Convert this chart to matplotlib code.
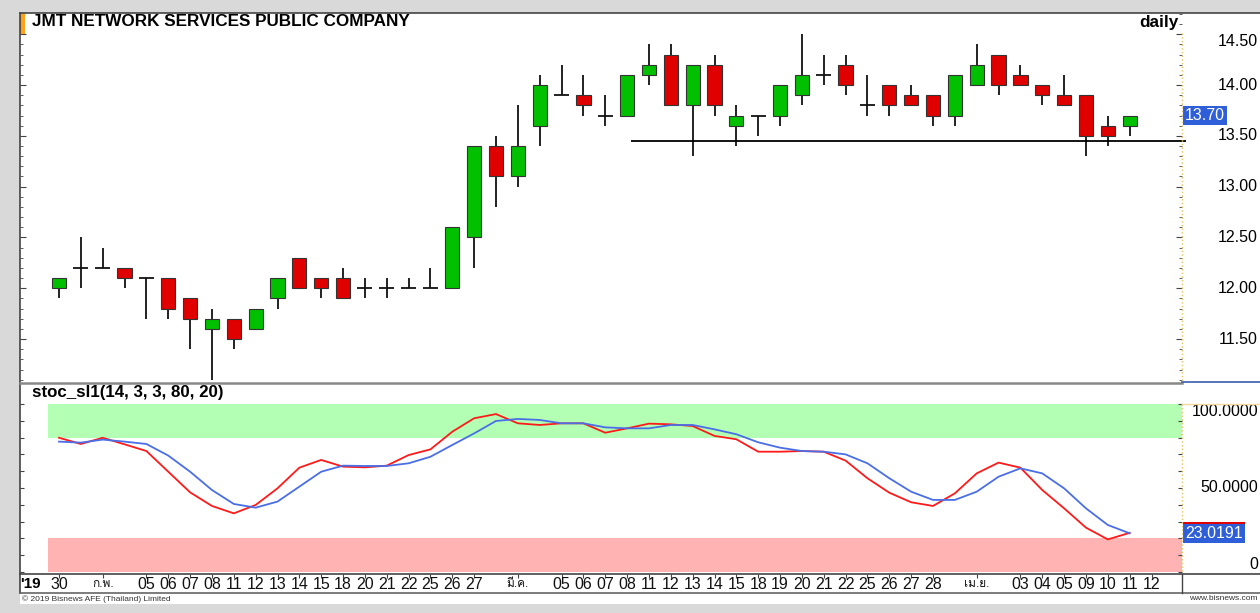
import numpy as np
import matplotlib
matplotlib.use("Agg")
import matplotlib.pyplot as plt
import matplotlib.transforms as mtransforms
from matplotlib import font_manager
from matplotlib.patches import Rectangle
from matplotlib.lines import Line2D

# daily candles JMT, 30 Jan - 11 Apr 2019
opens = [12.0, 12.2, 12.2, 12.2, 12.1, 12.1, 11.9, 11.6, 11.7, 11.6,
         11.9, 12.3, 12.1, 12.1, 12.0, 12.0, 12.0, 12.0, 12.0, 12.5,
         13.4, 13.1, 13.6, 13.9, 13.9, 13.7, 13.7, 14.1, 14.3, 13.8,
         14.2, 13.6, 13.7, 13.7, 13.9, 14.1, 14.2, 13.8, 14.0, 13.9,
         13.9, 13.7, 14.0, 14.3, 14.1, 14.0, 13.9, 13.9, 13.6, 13.6]
highs = [12.1, 12.5, 12.4, 12.2, 12.1, 12.1, 11.9, 11.8, 11.7, 11.8,
         12.1, 12.3, 12.1, 12.2, 12.1, 12.1, 12.1, 12.2, 12.6, 13.4,
         13.5, 13.8, 14.1, 14.2, 14.1, 13.9, 14.1, 14.4, 14.4, 14.2,
         14.3, 13.8, 13.7, 14.0, 14.5, 14.3, 14.3, 14.1, 14.0, 14.0,
         13.9, 14.1, 14.4, 14.3, 14.2, 14.0, 14.1, 13.9, 13.7, 13.7]
lows = [11.9, 12.0, 12.2, 12.0, 11.7, 11.7, 11.4, 11.1, 11.4, 11.6,
        11.8, 12.0, 11.9, 11.9, 11.9, 11.9, 12.0, 12.0, 12.0, 12.2,
        12.8, 13.0, 13.4, 13.9, 13.7, 13.6, 13.7, 14.0, 13.8, 13.3,
        13.7, 13.4, 13.5, 13.6, 13.8, 14.0, 13.9, 13.7, 13.7, 13.8,
        13.6, 13.6, 14.0, 13.9, 14.0, 13.8, 13.8, 13.3, 13.4, 13.5]
closes = [12.1, 12.2, 12.2, 12.1, 12.1, 11.8, 11.7, 11.7, 11.5, 11.8,
          12.1, 12.0, 12.0, 11.9, 12.0, 12.0, 12.0, 12.0, 12.6, 13.4,
          13.1, 13.4, 14.0, 13.9, 13.8, 13.7, 14.1, 14.2, 13.8, 14.2,
          13.8, 13.7, 13.7, 14.0, 14.1, 14.1, 14.0, 13.8, 13.8, 13.8,
          13.7, 14.1, 14.2, 14.0, 14.0, 13.9, 13.8, 13.5, 13.5, 13.7]

# stochastic slow (14, 3, 3): red = %K, blue = %D
stoch_k = [79.9, 76.2, 79.9, 76.0, 72.0, 59.7, 47.4, 39.3, 34.9, 39.9,
           49.8, 62.1, 66.7, 62.7, 62.3, 63.3, 69.6, 73.0, 83.5, 91.5,
           94.0, 88.5, 87.5, 88.5, 88.5, 82.9, 85.5, 88.3, 87.9, 86.9,
           81.0, 79.0, 71.6, 71.6, 72.0, 71.6, 66.3, 55.8, 47.2, 41.5,
           39.3, 46.8, 58.7, 65.1, 62.1, 48.8, 37.9, 26.4, 19.4, 23.3]
stoch_d = [77.6, 77.0, 78.8, 77.6, 76.2, 69.3, 59.7, 48.8, 40.5, 38.3,
           41.9, 50.8, 59.7, 63.3, 63.1, 63.1, 64.7, 68.6, 75.6, 82.5,
           89.9, 91.1, 90.5, 88.5, 88.5, 86.1, 85.5, 85.5, 87.5, 87.5,
           84.9, 82.0, 77.2, 74.0, 72.0, 71.6, 70.0, 64.7, 55.8, 47.8,
           42.9, 42.9, 47.8, 56.7, 61.7, 58.7, 49.8, 37.9, 28.0, 23.0191]

# one label per trading day (12 Apr has a slot but no candle yet)
date_labels = ['30', '', 'ก.พ.', '', '05', '06', '07', '08', '11', '12',
               '13', '14', '15', '18', '20', '21', '22', '25', '26', '27',
               '', 'มี.ค.', '', '05', '06', '07', '08', '11', '12', '13',
               '14', '15', '18', '19', '20', '21', '22', '25', '26', '27',
               '28', '', 'เม.ย.', '', '03', '04', '05', '09', '10', '11', '12']

price_ticks = [14.5, 14.0, 13.5, 13.0, 12.5, 12.0, 11.5]
price_tick_labels = ['14.50', '14.00', '13.50', '13.00', '12.50', '12.00', '11.50']
stoch_ticks = [100, 50, 0]
stoch_tick_labels = ['100.0000', '50.0000', '0']
support_level = 13.45
support_start = 26.2
last_price = 13.70
overbought = 80
oversold = 20

W, H = 1260, 613
GRAY = '#d9d9d9'
GREEN = '#00c000'
RED = '#e00000'
LABEL_BLUE = '#2f5fd8'
FONT = 'Liberation Sans'


def find_thai_font():
    # any installed font that covers the Thai block
    try:
        from fontTools.ttLib import TTFont
    except ImportError:
        return 'DejaVu Sans'
    for entry in font_manager.fontManager.ttflist:
        try:
            cmap = TTFont(entry.fname, fontNumber=0, lazy=True).getBestCmap()
        except Exception:
            continue
        if cmap and 0x0E01 in cmap:
            return entry.name
    return 'DejaVu Sans'


def fx(px):
    return px / W


def fy(py):
    return 1 - py / H


def fig_line(fig, x0, y0, x1, y1, **kw):
    fig.add_artist(Line2D([fx(x0), fx(x1)], [fy(y0), fy(y1)],
                          transform=fig.transFigure, **kw))


THAI = find_thai_font()
plt.rcParams['font.family'] = [FONT, THAI, 'DejaVu Sans']

x = np.arange(len(closes))
o = np.array(opens)
c = np.array(closes)
# pixel geometry of the original: candle 0 at x=59, 21.85 px per day
step = 21.85
xlim = ((20 - 59) / step, (1182 - 59) / step)

fig = plt.figure(figsize=(W / 100, H / 100), dpi=100, facecolor=GRAY)
fig.add_artist(Rectangle((fx(20), fy(604)), 1 - fx(20), fy(13) - fy(604),
                         transform=fig.transFigure, facecolor='white',
                         edgecolor='none', zorder=0))

ax_price = fig.add_axes([fx(20), fy(382), fx(1182) - fx(20), fy(13) - fy(382)])
ax_stoch = fig.add_axes([fx(20), fy(573), fx(1182) - fx(20), fy(384) - fy(573)])
ax_date = fig.add_axes([fx(20), fy(593), fx(1182) - fx(20), fy(574) - fy(593)])

for ax in (ax_price, ax_stoch, ax_date):
    ax.set_xlim(*xlim)
    ax.set_facecolor('white')
    ax.set_xticks([])
    ax.set_yticks([])
    for side in ('top', 'right', 'bottom', 'left'):
        ax.spines[side].set_visible(False)

# ---- candles ----
ax_price.set_ylim(11.077, 14.709)
ax_price.vlines(x, lows, highs, color='#111111', lw=1.3, zorder=2)
doji = o == c
body = ~doji
colors = np.where(c > o, GREEN, RED)
ax_price.bar(x[body], np.abs(c - o)[body], bottom=np.minimum(o, c)[body],
             width=0.65, color=colors[body], edgecolor='#333333', lw=0.8, zorder=3)
ax_price.hlines(o[doji], x[doji] - 0.34, x[doji] + 0.34, color='#111111', lw=1.3, zorder=3)
ax_price.hlines(support_level, support_start, xlim[1] + 0.2, color='black',
                lw=1.3, zorder=4, clip_on=False)

ax_price.set_yticks(np.arange(11.5, 14.51, 0.5))
ax_price.set_yticks(np.arange(11.1, 14.71, 0.1), minor=True)
ax_price.tick_params(axis='y', which='both', left=True, right=True,
                     labelleft=False, direction='in', color='#444444')
ax_price.tick_params(axis='y', which='major', length=4)
ax_price.tick_params(axis='y', which='minor', length=2)

right_tr = mtransforms.blended_transform_factory(ax_price.transAxes, ax_price.transData)
rx = (1258 - 20) / (1182 - 20)
for v, lab in zip(price_ticks, price_tick_labels):
    va = 'top' if v == max(price_ticks) else 'center'
    ax_price.text(rx, v, lab, transform=right_tr, ha='right', va=va,
                  fontsize=11.5, clip_on=False)
lx = (1185 - 20) / (1182 - 20)
ax_price.text(lx, last_price, f'{last_price:.2f}', transform=right_tr, ha='left',
              va='center', fontsize=11.5, color='white', clip_on=False,
              bbox=dict(boxstyle='square,pad=0.12', fc=LABEL_BLUE, ec='none'))

# ---- stochastic ----
ax_stoch.set_ylim(-0.6, 111.9)
band_from = (-0.5 - xlim[0]) / (xlim[1] - xlim[0])
ax_stoch.axhspan(overbought, 100, xmin=band_from, color='#b3ffb3', lw=0, zorder=1)
ax_stoch.axhspan(0, oversold, xmin=band_from, color='#ffb3b3', lw=0, zorder=1)
ax_stoch.plot(x, stoch_k, color='#ff1a1a', lw=1.3, zorder=3)
ax_stoch.plot(x, stoch_d, color='#4a6ee6', lw=1.3, zorder=4)
ax_stoch.set_yticks(np.arange(0, 101, 10))
ax_stoch.tick_params(axis='y', left=True, right=True, labelleft=False,
                     direction='in', length=3, color='#444444')

st_tr = mtransforms.blended_transform_factory(ax_stoch.transAxes, ax_stoch.transData)
for v, lab in zip(stoch_ticks, stoch_tick_labels):
    va = 'top' if v == 100 else ('bottom' if v == 0 else 'center')
    ax_stoch.text(rx, v, lab, transform=st_tr, ha='right', va=va,
                  fontsize=11.5, clip_on=False)
ax_stoch.text(lx, stoch_k[-1] + 0.8, f'{stoch_d[-1]:.4f}', transform=st_tr, ha='left',
              va='center', fontsize=11.5, color=RED, clip_on=False,
              bbox=dict(boxstyle='square,pad=0.12', fc=RED, ec='none'))
ax_stoch.text(lx, stoch_d[-1], f'{stoch_d[-1]:.4f}', transform=st_tr, ha='left',
              va='center', fontsize=11.5, color='white', clip_on=False,
              bbox=dict(boxstyle='square,pad=0.12', fc=LABEL_BLUE, ec='none'))

# ---- date strip ----
date_tr = mtransforms.blended_transform_factory(ax_date.transData, ax_date.transAxes)
labelled = [i for i, lab in enumerate(date_labels) if lab]
ax_date.set_xticks(labelled)
ax_date.tick_params(axis='x', bottom=False, top=True, labelbottom=False,
                    direction='in', length=3, color='#444444')
for i, lab in enumerate(date_labels):
    if not lab:
        continue
    thai = not lab.isdigit()
    ax_date.text(i, 0.45, lab, transform=date_tr, ha='center', va='center',
                 fontsize=8.5 if thai else 11.5, color='#111111')
fig.text(fx(20), fy(584), "'19", ha='left', va='center', fontsize=11,
         fontweight='bold')

# ---- titles and frame ----
fig.text(fx(32), fy(22), 'JMT NETWORK SERVICES PUBLIC COMPANY', ha='left',
         va='center', fontsize=12.3, fontweight='bold')
fig.text(fx(1178), fy(22), 'daily', ha='right', va='center', fontsize=12.3,
         fontweight='bold')
fig.text(fx(32), fy(393), 'stoc_sl1(14, 3, 3, 80, 20)', ha='left', va='center',
         fontsize=12.2, fontweight='bold')
fig.text(fx(22), fy(599), '\u00a9 2019 Bisnews AFE (Thailand) Limited', ha='left',
         va='center', fontsize=6, color='#333333')
fig.text(fx(1258), fy(599), 'www.bisnews.com', ha='right', va='center',
         fontsize=6, color='#333333')
fig.add_artist(Rectangle((fx(20), fy(34)), fx(25) - fx(20), fy(13) - fy(34),
                         transform=fig.transFigure, facecolor='#ffa21a',
                         edgecolor='none'))

fig_line(fig, 20, 13, 1260, 13, color='#444444', lw=1.2)
fig_line(fig, 20, 13, 20, 593, color='#444444', lw=1.2)
fig_line(fig, 20, 382.5, 1182, 382.5, color='#888888', lw=1.8)
fig_line(fig, 1182, 382, 1260, 382, color='#3a5bb0', lw=1.2)
fig_line(fig, 1182, 33, 1182, 382, color='#e6c35c', lw=1, ls=':')
fig_line(fig, 1182, 404, 1182, 573, color='#e6c35c', lw=1, ls=':')
fig_line(fig, 1182, 404, 1260, 404, color='#f3d9a0', lw=1)
fig_line(fig, 20, 574, 1260, 574, color='#444444', lw=1.2)
fig_line(fig, 20, 593, 1260, 593, color='#666666', lw=1.2)
fig_line(fig, 1182, 574, 1182, 593, color='#444444', lw=1)

fig.savefig('out.png', dpi=100, facecolor=GRAY)
